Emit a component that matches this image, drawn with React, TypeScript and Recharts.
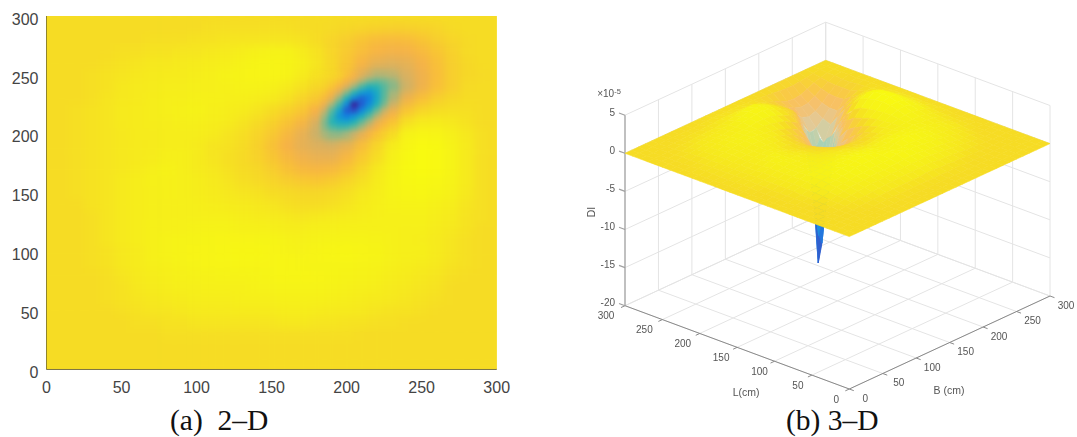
import {
  ScatterChart,
  Scatter,
  XAxis,
  YAxis,
  ReferenceArea,
  ReferenceLine,
} from 'recharts'

// DI values, in tenths of 1e-5
const bGrid = [0, 10, 20, 30, 40, 50, 60, 70, 80, 90, 100, 110, 120, 130, 140, 150, 160, 170, 180, 190, 200, 210, 220, 230, 240, 250, 260, 270, 280, 290, 300]
const lGrid = [300, 290, 280, 270, 260, 250, 240, 230, 220, 210, 200, 190, 180, 170, 160, 150, 140, 130, 120, 110, 100, 90, 80, 70, 60, 50, 40, 30, 20, 10, 0]
const diRows = [
  [0, 0, 0, 0, 0, 0, 0, 0, 0, 0, 0, 0, 0, 0, 0, 0, 0, 0, 0, 0, 0, 0, 0, 0, 0, 0, 0, 0, 0, 0, 0],
  [0, 0, 0, 0, 0, 0, 0, 0, 0, 0, 0, 1, 1, 1, 1, 1, 1, 0, 0, -1, -2, -3, -4, -5, -5, -4, -3, -1, 0, 0, 0],
  [0, 0, 0, 0, 0, 0, 0, 1, 1, 1, 2, 2, 3, 3, 3, 3, 3, 2, 0, -3, -6, -10, -14, -15, -14, -10, -6, -3, -1, 0, 0],
  [0, 0, 0, 0, 0, 1, 1, 2, 2, 3, 3, 4, 5, 7, 9, 10, 10, 6, 2, -3, -8, -14, -19, -22, -21, -16, -10, -5, -1, 0, 0],
  [0, 0, 0, 0, 1, 2, 3, 4, 4, 5, 6, 7, 8, 10, 12, 13, 12, 8, 3, -2, -9, -19, -28, -31, -28, -21, -13, -6, -2, 0, 0],
  [0, 0, 0, 1, 2, 3, 4, 5, 6, 6, 7, 8, 10, 11, 13, 13, 11, 6, 2, -2, -11, -29, -44, -42, -34, -24, -14, -6, -2, -1, 0],
  [0, 0, 0, 1, 2, 4, 5, 6, 7, 7, 8, 8, 9, 10, 10, 9, 6, 2, -2, -10, -33, -76, -88, -58, -38, -24, -13, -6, -1, 0, 0],
  [0, 0, 0, 1, 3, 4, 5, 7, 8, 8, 9, 9, 8, 8, 7, 5, 2, -3, -8, -28, -92, -155, -102, -46, -24, -13, -6, -2, 0, 0, 0],
  [0, 0, 1, 2, 3, 5, 6, 7, 8, 9, 10, 8, 7, 6, 3, 0, -4, -9, -20, -70, -160, -130, -68, -26, -10, -3, 0, 1, 1, 0, 0],
  [0, 0, 1, 2, 3, 5, 6, 7, 7, 8, 8, 7, 6, 3, 0, -4, -10, -18, -33, -88, -104, -68, -28, -10, 1, 5, 6, 4, 2, 0, 0],
  [0, 0, 1, 2, 3, 4, 6, 6, 7, 7, 7, 6, 3, 1, -3, -8, -16, -27, -38, -54, -48, -27, -10, 0, 10, 14, 13, 8, 4, 1, 0],
  [0, 0, 1, 2, 3, 4, 5, 6, 7, 7, 6, 3, 2, 0, -4, -11, -20, -28, -33, -35, -28, -14, -3, 6, 14, 19, 17, 10, 5, 1, 0],
  [0, 0, 1, 2, 3, 4, 5, 6, 8, 8, 6, 3, 1, -1, -4, -9, -16, -23, -27, -27, -18, -8, 0, 8, 16, 20, 18, 11, 5, 1, 0],
  [0, 0, 1, 2, 3, 4, 6, 8, 10, 8, 6, 4, 2, 0, -2, -6, -11, -16, -18, -16, -10, -3, 4, 10, 17, 20, 18, 11, 5, 1, 0],
  [0, 0, 1, 2, 3, 5, 7, 9, 9, 8, 7, 5, 3, 1, -1, -3, -6, -8, -9, -7, -3, 1, 6, 11, 16, 17, 15, 10, 5, 1, 0],
  [0, 0, 1, 2, 3, 5, 7, 8, 9, 8, 7, 6, 4, 3, 2, 0, -1, -2, -2, -1, 1, 4, 7, 11, 14, 15, 12, 9, 4, 1, 0],
  [0, 0, 0, 2, 3, 5, 7, 8, 8, 8, 8, 7, 6, 5, 4, 3, 1, 0, 0, 1, 3, 6, 8, 10, 11, 11, 9, 7, 3, 1, 0],
  [0, 0, 0, 1, 3, 5, 7, 8, 8, 8, 8, 8, 8, 7, 6, 5, 4, 3, 4, 5, 6, 7, 8, 9, 9, 9, 7, 5, 2, 1, 0],
  [0, 0, 0, 1, 3, 5, 7, 9, 9, 9, 10, 10, 10, 9, 9, 8, 7, 7, 8, 8, 9, 9, 9, 9, 8, 8, 6, 4, 2, 0, 0],
  [0, 0, 0, 1, 3, 5, 7, 9, 10, 11, 11, 12, 13, 13, 12, 12, 10, 9, 10, 11, 11, 11, 10, 9, 8, 7, 5, 3, 1, 0, 0],
  [0, 0, 0, 1, 2, 4, 6, 9, 10, 11, 13, 12, 14, 15, 15, 13, 11, 10, 13, 14, 15, 13, 12, 9, 8, 8, 5, 3, 1, 0, 0],
  [0, 0, 0, 1, 2, 4, 6, 8, 9, 10, 11, 13, 13, 14, 13, 13, 14, 12, 12, 12, 12, 11, 10, 8, 7, 6, 4, 2, 1, 0, 0],
  [0, 0, 0, 0, 1, 3, 5, 7, 8, 9, 10, 10, 11, 11, 11, 12, 14, 14, 13, 12, 11, 10, 9, 7, 6, 4, 3, 1, 0, 0, 0],
  [0, 0, 0, 0, 1, 2, 4, 6, 7, 8, 8, 9, 9, 9, 10, 10, 11, 11, 11, 10, 9, 8, 7, 5, 4, 3, 2, 0, 0, 0, 0],
  [0, 0, 0, 0, 1, 2, 3, 4, 5, 6, 7, 7, 7, 8, 8, 8, 9, 9, 9, 8, 7, 6, 5, 4, 3, 2, 1, 0, 0, 0, 0],
  [0, 0, 0, 0, 0, 1, 2, 3, 3, 4, 5, 5, 5, 6, 6, 6, 7, 7, 6, 5, 5, 4, 3, 2, 2, 1, 0, 0, 0, 0, 0],
  [0, 0, 0, 0, 0, 0, 1, 1, 2, 2, 3, 3, 3, 3, 3, 3, 4, 4, 3, 3, 2, 2, 1, 1, 0, 0, 0, 0, 0, 0, 0],
  [0, 0, 0, 0, 0, 0, 0, 0, 1, 1, 1, 1, 1, 1, 1, 1, 1, 1, 1, 1, 1, 0, 0, 0, 0, 0, 0, 0, 0, 0, 0],
  [0, 0, 0, 0, 0, 0, 0, 0, 0, 0, 0, 0, 0, 0, 0, 0, 0, 0, 0, 0, 0, 0, 0, 0, 0, 0, 0, 0, 0, 0, 0],
  [0, 0, 0, 0, 0, 0, 0, 0, 0, 0, 0, 0, 0, 0, 0, 0, 0, 0, 0, 0, 0, 0, 0, 0, 0, 0, 0, 0, 0, 0, 0],
  [0, 0, 0, 0, 0, 0, 0, 0, 0, 0, 0, 0, 0, 0, 0, 0, 0, 0, 0, 0, 0, 0, 0, 0, 0, 0, 0, 0, 0, 0, 0],
]

// finer readings around the dip
const bCore = [180, 185, 190, 195, 200, 205, 210, 215, 220, 225, 230]
const lCore = [250, 245, 240, 235, 230, 225, 220, 215, 210, 205, 200]
const coreRows = [
  [2, 0, -2, -5, -11, -19, -29, -38, -44, -44, -42],
  [0, -2, -5, -10, -19, -31, -46, -60, -66, -62, -54],
  [-2, -4, -10, -19, -33, -52, -76, -92, -88, -72, -58],
  [-5, -9, -18, -34, -58, -88, -112, -120, -100, -72, -50],
  [-8, -15, -28, -55, -92, -130, -155, -135, -102, -70, -46],
  [-13, -25, -48, -80, -125, -200, -160, -125, -92, -62, -38],
  [-20, -38, -70, -105, -160, -172, -130, -100, -68, -42, -26],
  [-26, -50, -82, -118, -135, -120, -98, -72, -46, -28, -18],
  [-33, -58, -88, -100, -104, -90, -68, -48, -28, -18, -10],
  [-37, -56, -72, -78, -76, -64, -48, -32, -20, -11, -6],
  [-38, -48, -54, -55, -48, -38, -27, -18, -10, -5, 0],
]

const axisTicks = [0, 50, 100, 150, 200, 250, 300]
const diTicks = [5, 0, -5, -10, -15, -20]

const colorStops: [number, number[]][] = [
  [-20, [58, 31, 150]],
  [-17, [42, 80, 200]],
  [-14, [18, 120, 226]],
  [-11, [18, 160, 210]],
  [-9, [34, 178, 182]],
  [-7, [92, 185, 154]],
  [-5, [164, 182, 124]],
  [-3.5, [216, 176, 98]],
  [-2, [247, 178, 70]],
  [-1, [248, 196, 52]],
  [0, [246, 220, 36]],
  [0.4, [246, 232, 30]],
  [1, [246, 242, 24]],
  [2, [248, 250, 16]],
]

function mix(z: number) {
  for (let i = 1; i < colorStops.length; i++) {
    const [z1, c1] = colorStops[i]
    const [z0, c0] = colorStops[i - 1]
    if (z <= z1) {
      const t = Math.max(0, (z - z0) / (z1 - z0))
      return c0.map((v, k) => v + (c1[k] - v) * t)
    }
  }
  return colorStops[colorStops.length - 1][1]
}

function rgb(c: number[]) {
  return `rgb(${c.map((v) => Math.round(v)).join(',')})`
}

const insideCore = (l: number, b: number) => l >= 200 && l <= 250 && b >= 180 && b <= 230

function diAt(l: number, b: number) {
  if (insideCore(l, b)) return coreRows[lCore.indexOf(l)][bCore.indexOf(b)] / 10
  return diRows[lGrid.indexOf(l)][bGrid.indexOf(b)] / 10
}

// panel (a)
const plotW = 450.2
const plotH = 353.3

const baseCells = lGrid.flatMap((l) => bGrid.map((b) => ({ x: b, y: l, z: diAt(l, b) })))
const coreCells = lCore.flatMap((l) => bCore.map((b) => ({ x: b, y: l, z: diAt(l, b) })))

function heatCell(step: number) {
  const w = (step * plotW) / 300
  const h = (step * plotH) / 300
  return (props: any) => (
    <rect
      x={props.cx - w / 2}
      y={props.cy - h / 2}
      width={w + 0.5}
      height={h + 0.5}
      fill={rgb(mix(props.payload.z))}
    />
  )
}

// panel (b): isometric view, x and y of the chart run in page pixels minus the panel offset
const panelLeft = 560

function project(l: number, b: number, z: number) {
  return {
    x: 849.3 - panelLeft - (l * 224.3) / 300 + (b * 200.7) / 300,
    y: 389 - (l * 83.3) / 300 - (b * 93) / 300 - (z + 20) * 7.62,
  }
}

function buildQuad(l: number, b: number, step: number) {
  const zs = [diAt(l, b), diAt(l + step, b), diAt(l + step, b + step), diAt(l, b + step)]
  const avg = zs.reduce((a, v) => a + v, 0) / 4
  // the funnel wall is a thin mesh in the original, so it reads paler as it goes down
  const pale = avg > -9 ? Math.min(0.35, Math.max(0, -avg * 0.09)) : 0.05
  const fill = rgb(mix(avg).map((v) => v + (255 - v) * pale))
  const center = project(l + step / 2, b + step / 2, avg)
  const corners = [
    project(l, b, zs[0]),
    project(l + step, b, zs[1]),
    project(l + step, b + step, zs[2]),
    project(l, b + step, zs[3]),
  ]
  return { ...center, corners, fill, depth: l + b + step }
}

const surfaceQuads = [
  ...bGrid.slice(0, -1).flatMap((b) =>
    lGrid
      .slice(1)
      .filter((l) => !(l >= 200 && l < 250 && b >= 180 && b < 230))
      .map((l) => buildQuad(l, b, 10)),
  ),
  ...bCore.slice(0, -1).flatMap((b) => lCore.slice(1).map((l) => buildQuad(l, b, 5))),
].sort((a, c) => c.depth - a.depth)

function SurfaceQuad(props: any) {
  const { cx, cy, payload } = props
  const pts = payload.corners
    .map((c: any) => `${cx + c.x - payload.x},${cy + c.y - payload.y}`)
    .join(' ')
  return <polygon points={pts} fill={payload.fill} stroke={payload.fill} strokeWidth={0.6} />
}

const gridStroke = '#e4e4e4'
const seg = (a: { x: number; y: number }, c: { x: number; y: number }) => [a, c]

const gridSegments = [
  ...axisTicks.flatMap((t) => [
    seg(project(t, 0, -20), project(t, 300, -20)),
    seg(project(0, t, -20), project(300, t, -20)),
    seg(project(300, t, -20), project(300, t, 5)),
    seg(project(t, 300, -20), project(t, 300, 5)),
  ]),
  ...diTicks.flatMap((z) => [
    seg(project(300, 0, z), project(300, 300, z)),
    seg(project(0, 300, z), project(300, 300, z)),
  ]),
]

const axisSegments = [
  seg(project(0, 0, -20), project(300, 0, -20)),
  seg(project(0, 0, -20), project(0, 300, -20)),
  ...axisTicks.map((t) => seg(project(t, 0, -20), project(t, -6, -20))),
  ...axisTicks.map((t) => seg(project(0, t, -20), project(-6, t, -20))),
]

const zAxisSegments = [
  seg(project(300, 0, -20), project(300, 0, 5)),
  ...diTicks.map((z) => seg(project(300, 0, z), project(308, 0, z))),
]

const textLabels = [
  ...axisTicks.map((t) => ({ ...project(t, 0, -20), text: String(t), dx: -13 - t / 50, dy: 11, anchor: 'middle' })),
  ...axisTicks.map((t) => ({ ...project(0, t, -20), text: String(t), dx: 16, dy: 10, anchor: 'middle' })),
  ...diTicks.map((z) => ({ ...project(300, 0, z), text: String(z), dx: -10, dy: -2, anchor: 'end' })),
]

function TickText(props: any) {
  const { cx, cy, payload } = props
  return (
    <text
      x={cx + payload.dx}
      y={cy + payload.dy}
      textAnchor={payload.anchor}
      dominantBaseline="middle"
      fontSize={10}
      fill="#555"
      fontFamily="Liberation Sans"
    >
      {payload.text}
    </text>
  )
}

const axisTitles = [
  { ...project(70, -76, -20), text: 'L(cm)' },
  { ...project(-77, 63, -20), text: 'B (cm)' },
]

function TitleText(props: any) {
  const { cx, cy, payload } = props
  return (
    <text
      x={cx}
      y={cy}
      textAnchor="middle"
      dominantBaseline="middle"
      fontSize={10.5}
      fill="#555"
      fontFamily="Liberation Sans"
    >
      {payload.text}
    </text>
  )
}

const scaleNote = [project(300, 0, 7.7)]
const diTitle = [project(300, 0, -7.7)]

const captionStyle = {
  position: 'absolute' as const,
  top: 404,
  fontFamily: 'Liberation Serif',
  fontSize: 29.5,
  lineHeight: '32px',
  whiteSpace: 'pre' as const,
  color: '#111',
}

const tickStyle = { fontSize: 16, fill: '#444', fontFamily: 'Liberation Sans' }

export default function App() {
  return (
    <div style={{ position: 'absolute', left: 0, top: 0, width: 1077, height: 437, background: '#fff', overflow: 'hidden' }}>
      <style>{`
        .heat-base { filter: blur(4px); }
        .heat-core { filter: blur(2.5px); }
        .surface { filter: blur(0.6px); }
      `}</style>

      <div style={{ position: 'absolute', left: 0, top: 0 }}>
        <ScatterChart width={520} height={437} margin={{ top: 16, right: 23.3, bottom: 37.7, left: 0 }}>
          <XAxis
            type="number"
            dataKey="x"
            domain={[0, 300]}
            ticks={axisTicks}
            allowDataOverflow
            height={30}
            tick={{ ...tickStyle, dy: 4 }}
            tickLine={false}
            axisLine={{ stroke: '#333' }}
          />
          <YAxis
            type="number"
            dataKey="y"
            domain={[0, 300]}
            ticks={axisTicks}
            allowDataOverflow
            width={46.5}
            tick={{ ...tickStyle, dy: 3 }}
            tickLine={false}
            axisLine={{ stroke: '#333' }}
          />
          <ReferenceArea x1={0} x2={300} y1={0} y2={300} fill="#f6dc24" fillOpacity={1} stroke="none" />
          <Scatter className="heat-base" data={baseCells} shape={heatCell(10)} isAnimationActive={false} />
          <Scatter className="heat-core" data={coreCells} shape={heatCell(5)} isAnimationActive={false} />
        </ScatterChart>
      </div>

      <div style={{ position: 'absolute', left: panelLeft, top: 0, filter: 'blur(0.4px)' }}>
        <ScatterChart width={517} height={437} margin={{ top: 0, right: 0, bottom: 0, left: 0 }}>
          <XAxis type="number" dataKey="x" domain={[0, 517]} hide />
          <YAxis type="number" dataKey="y" domain={[0, 437]} reversed hide />
          {gridSegments.map((s, i) => (
            <ReferenceLine key={`g${i}`} segment={s} stroke={gridStroke} strokeWidth={1} />
          ))}
          {axisSegments.map((s, i) => (
            <ReferenceLine key={`a${i}`} segment={s} stroke="#8a8a8a" strokeWidth={1} />
          ))}
          {zAxisSegments.map((s, i) => (
            <ReferenceLine key={`z${i}`} segment={s} stroke="#a0a0a0" strokeWidth={1.2} />
          ))}
          <Scatter className="surface" data={surfaceQuads} shape={SurfaceQuad} isAnimationActive={false} />
          <Scatter data={textLabels} shape={TickText} isAnimationActive={false} />
          <Scatter data={axisTitles} shape={TitleText} isAnimationActive={false} />
          <Scatter
            data={scaleNote}
            isAnimationActive={false}
            shape={(p: any) => (
              <text x={p.cx - 16} y={p.cy + 2} textAnchor="middle" fontSize={10} fill="#555" fontFamily="Liberation Sans">
                ×10
                <tspan dy={-3} fontSize={7.5}>
                  -5
                </tspan>
              </text>
            )}
          />
          <Scatter
            data={diTitle}
            isAnimationActive={false}
            shape={(p: any) => (
              <text
                x={p.cx - 33}
                y={p.cy}
                textAnchor="middle"
                dominantBaseline="middle"
                transform={`rotate(-90 ${p.cx - 33} ${p.cy})`}
                fontSize={10.5}
                fill="#555"
                fontFamily="Liberation Sans"
              >
                DI
              </text>
            )}
          />
        </ScatterChart>
      </div>

      <div style={{ ...captionStyle, left: 170 }}>(a)  2–D</div>
      <div style={{ ...captionStyle, left: 786 }}>(b) 3–D</div>
    </div>
  )
}
